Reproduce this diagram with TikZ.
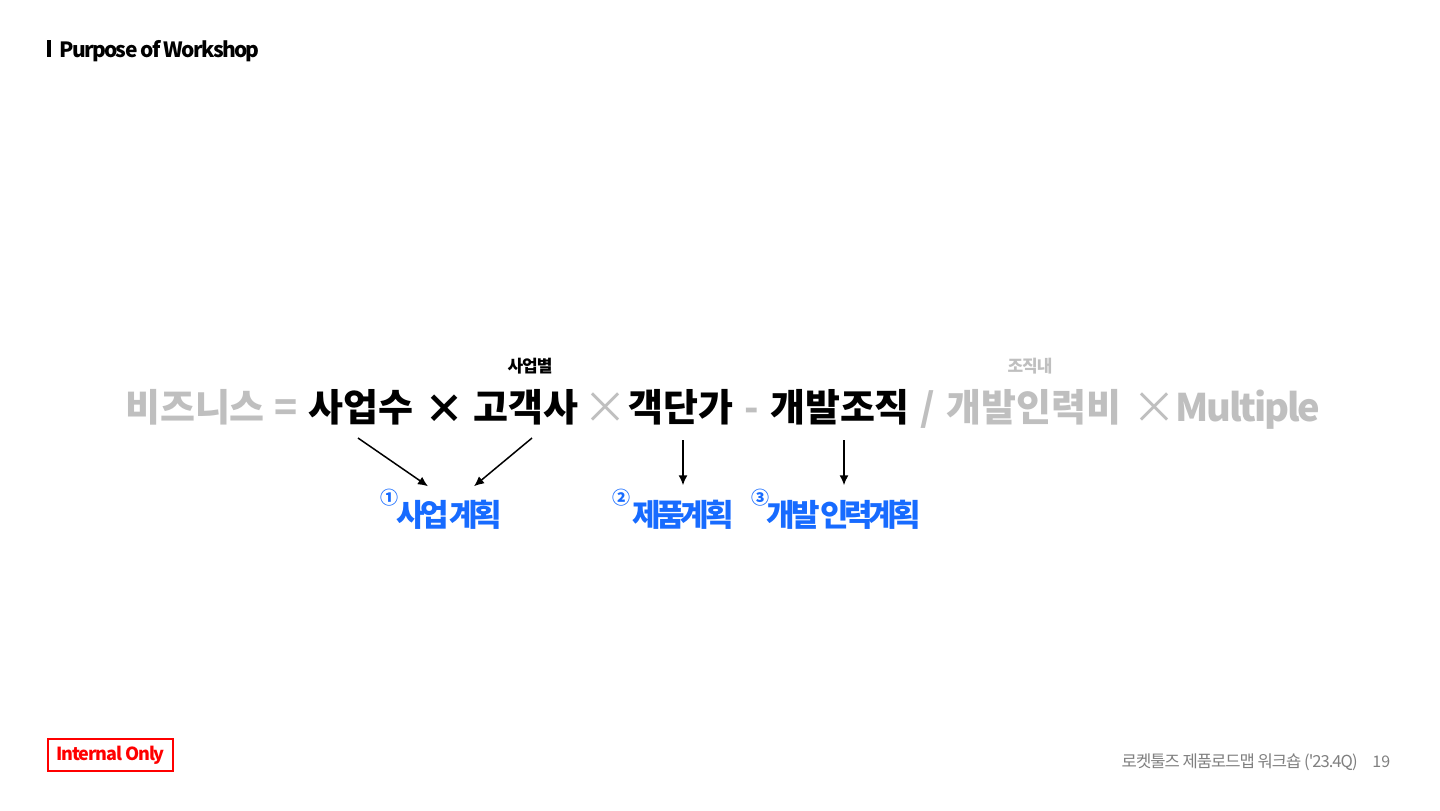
\documentclass[tikz,border=0pt]{standalone}
\usepackage{fontspec}
\usepackage{tikz}
\usetikzlibrary{arrows.meta,positioning}
\setmainfont{Noto Sans CJK KR}
\newfontfamily\kr{Noto Sans CJK KR}
\newfontfamily\krtight{Noto Sans CJK KR}[LetterSpace=-14, WordSpace=0.15]
\newfontfamily\krsmall{Noto Sans CJK KR}[LetterSpace=-6]
\newfontfamily\krnarrow{Noto Sans CJK KR}[LetterSpace=-8]
\definecolor{silver}{rgb}{0.75,0.75,0.75}
\definecolor{planblue}{rgb}{0.09,0.42,1.0}
\definecolor{footgray}{rgb}{0.5,0.5,0.5}
\definecolor{alertred}{rgb}{1,0,0}

\tikzset{
  term/.style={inner sep=0pt, anchor=base, font=\kr\bfseries\fontsize{19pt}{19pt}\selectfont},
  op/.style={term, font=\kr\fontsize{22pt}{22pt}\selectfont},
  note/.style={inner sep=0pt, anchor=base, font=\krsmall\bfseries\fontsize{8.5pt}{8.5pt}\selectfont},
  plan/.style={inner sep=0pt, anchor=base, planblue, font=\krtight\bfseries\fontsize{15.5pt}{15.5pt}\selectfont},
  tag/.style={inner sep=0pt, planblue, font=\kr\bfseries\fontsize{9pt}{9pt}\selectfont},
  flow/.style={-{Latex[length=5pt,width=4.5pt]}, line width=0.75pt}
}

\begin{document}
\begin{tikzpicture}[x=0.5pt, y=-0.5pt]
  \useasboundingbox[fill=white] (0,0) rectangle (1440,810);

  % header
  \fill (47,40) rectangle (51,57);
  \node[inner sep=0pt, anchor=base west, font=\krnarrow\bfseries\fontsize{10.5pt}{10.5pt}\selectfont] (title) at (59,57) {Purpose of Workshop};

  % the formula
  \node[term, silver] (bizname) at (195,421) {비즈니스};
  \node[term, silver] (eq) at (286,421) {=};
  \node[term] (units) at (361,421) {사업수};
  \node[op, font=\kr\bfseries\fontsize{20pt}{20pt}\selectfont] (times1) at (444,423) {×};
  \node[term] (clients) at (526,421) {고객사};
  \node[op, silver] (times2) at (605,423) {×};
  \node[term] (price) at (681,421) {객단가};
  \node[term, silver] (minus) at (752,421) {-};
  \node[term] (devorg) at (840,421) {개발조직};
  \node[term, silver] (slash) at (928,421) {/};
  \node[term, silver] (devcost) at (1034,421) {개발인력비};
  \node[op, silver] (times3) at (1154,423) {×};
  \node[term, silver, font=\krsmall\bfseries\fontsize{19pt}{19pt}\selectfont] (multiple) at (1248,421) {Multiple};

  \node[note] (perunit) at (530,372) {사업별};
  \node[note, silver] (inorg) at (1030,372) {조직내};

  % plans
  \node[plan] (plan1) at (449,526) {사업 계획};
  \node[plan] (plan2) at (683,526) {제품계획};
  \node[plan] (plan3) at (844,526) {개발 인력계획};
  \node[tag] (num1) at (389,498) {①};
  \node[tag] (num2) at (621,498) {②};
  \node[tag] (num3) at (760,498) {③};

  \draw[flow] ([xshift=-1.5pt, yshift=-6.5pt]units.south) -- ([xshift=-10.5pt, yshift=6.5pt]plan1.north);
  \draw[flow] ([xshift=3pt, yshift=-6.5pt]clients.south) -- ([xshift=12.5pt, yshift=6.5pt]plan1.north);
  \draw[flow] ([xshift=1pt, yshift=-7.5pt]price.south) -- ([yshift=7pt]plan2.north);
  \draw[flow] ([xshift=2pt, yshift=-7.5pt]devorg.south) -- ([yshift=7pt]plan3.north);

  % footer
  \node[draw=alertred, line width=0.6pt, alertred, minimum width=62.5pt, minimum height=16pt, inner sep=0pt,
        font=\krsmall\bfseries\fontsize{9pt}{9pt}\selectfont] (internal) at (110.5,755) {Internal Only};
  \node[inner sep=0pt, anchor=base east, footgray, font=\krsmall\fontsize{8.3pt}{8.3pt}\selectfont] (footer) at (1358,767) {로켓툴즈 제품로드맵 워크숍 ('23.4Q)};
  \node[inner sep=0pt, anchor=base west, footgray, font=\kr\fontsize{8pt}{8pt}\selectfont] (pagenum) at (1372,767) {19};
\end{tikzpicture}
\end{document}
